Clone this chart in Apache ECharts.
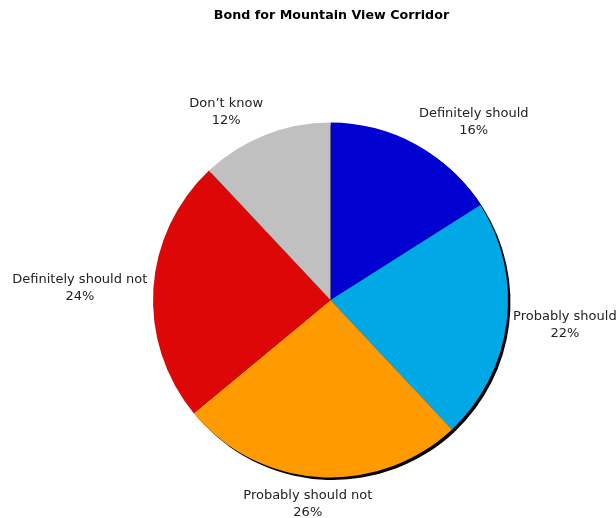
<!DOCTYPE html>
<html>
<head>
<meta charset="utf-8">
<script src="https://cdn.jsdelivr.net/npm/echarts@6/dist/echarts.min.js"></script>
<style>html,body{margin:0;padding:0;background:#fff;}#c{width:616px;height:518px;}</style>
</head>
<body>
<div id="c"></div>
<script>
const title = 'Bond for Mountain View Corridor';
const categories = ['Definitely should', 'Probably should', 'Probably should not', 'Definitely should not', "Don\u2019t know"];
const values = [16, 22, 26, 24, 12];
const colors = ['#0000d0', '#00a9e6', '#ff9a00', '#de0707', '#c0c0c0'];

const CX = 330.5, CY = 300, R = 177.5;
const total = values.reduce((a, b) => a + b, 0);
const cum = [];
values.reduce((a, v, i) => { cum[i] = a; return a + v; }, 0);

const el = document.getElementById('c');
const chart = echarts.init(el, null, {renderer: 'canvas'});
const data = categories.map((c, i) => ({name: c, value: values[i], itemStyle: {color: colors[i]}}));

function clamp(v) { return Math.max(-1, Math.min(1, v)); }

chart.setOption({
  animation: false,
  backgroundColor: '#ffffff',
  title: {
    text: title, left: CX - 4, top: 4, textAlign: 'center',
    textStyle: {fontFamily: 'DejaVu Sans', fontSize: 12.7, fontWeight: 'bold', color: '#000'}
  },
  series: [
    {
      type: 'pie', silent: true, z: 1,
      center: [CX + 2.5, CY + 2.5], radius: R,
      data: values.map((v, i) => ({name: categories[i], value: v})),
      itemStyle: {color: '#000', borderWidth: 0},
      label: {show: false}, labelLine: {show: false}
    },
    {
      type: 'pie', z: 2,
      center: [CX, CY], radius: R,
      startAngle: 90, clockwise: true,
      avoidLabelOverlap: false,
      data: data,
      itemStyle: {borderWidth: 0},
      label: {
        show: true, position: 'outside',
        formatter: p => p.name + '\n' + p.value + '%',
        fontFamily: 'DejaVu Sans', fontSize: 13, color: '#222', lineHeight: 17, align: 'center'
      },
      labelLine: {show: false},
      labelLayout: function (p) {
        const i = p.dataIndex;
        const mid = (cum[i] + values[i] / 2) / total * 2 * Math.PI;
        const dx = Math.sin(mid), dy = -Math.cos(mid);
        const gap = 6 + 4 * Math.max(0, dy);
        const ax = CX + (R + gap) * dx, ay = CY + (R + gap) * dy;
        const w = p.labelRect.width, h = p.labelRect.height;
        const fx = clamp(dx * 2.7);
        const fy = Math.sign(dy) * clamp(Math.max(0, Math.abs(dy) - 0.1) * 3.7);
        return {x: ax + fx * w / 2, y: ay + fy * h / 2, align: 'center', verticalAlign: 'middle'};
      },
      emphasis: {disabled: true}
    }
  ]
});
</script>
</body>
</html>
